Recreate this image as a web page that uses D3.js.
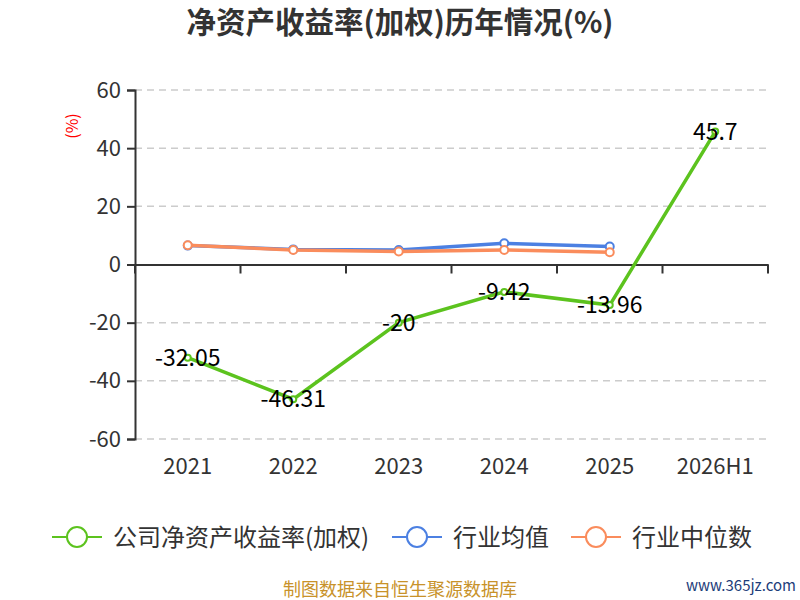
<!DOCTYPE html>
<html><head><meta charset="utf-8">
<script src="https://cdn.jsdelivr.net/npm/d3@7"></script>
<style>body{margin:0;background:#fff}svg{display:block}text{font-family:"Noto Sans CJK SC","Noto Sans",sans-serif}</style>
</head><body><div id="c"></div>
<script>
const categories = ["2021","2022","2023","2024","2025","2026H1"];
const companyROE = [-32.05,-46.31,-20,-9.42,-13.96,45.7];
const industryAvg = [6.5,5.2,5.0,7.3,6.2,null];
const industryMedian = [6.6,5.0,4.5,5.0,4.2,null];
const yTicks = [-60,-40,-20,0,20,40,60];
const seriesNames = ["公司净资产收益率(加权)","行业均值","行业中位数"];
const colors = ["#5cc31e","#4c80e2","#fa8c5c"];

const W=800,H=600;
const svg=d3.select("#c").append("svg").attr("width",W).attr("height",H);
const L=135,R=768,T=90,B=439;
const x=d3.scaleBand().domain(categories).range([L,R]);
const y=d3.scaleLinear().domain([-60,60]).range([B,T]);

svg.append("text").attr("x",400).attr("y",33).attr("text-anchor","middle")
  .attr("font-size",29.5).attr("font-weight","bold").attr("fill","#333").text("净资产收益率(加权)历年情况(%)");

// grid
svg.append("g").selectAll("line").data(yTicks.filter(d=>d!==0)).join("line")
  .attr("x1",L).attr("x2",R).attr("y1",d=>y(d)).attr("y2",d=>y(d))
  .attr("stroke","#ccc").attr("stroke-width",1.5).attr("stroke-dasharray","7,5");

// y axis
const ya=svg.append("g").attr("transform",`translate(${L},0)`)
  .call(d3.axisLeft(y).tickValues(yTicks).tickFormat(d=>String(d)).tickSize(8).tickPadding(6));
ya.select(".domain").attr("stroke","#333").attr("stroke-width",2);
ya.selectAll(".tick line").attr("stroke","#333").attr("stroke-width",2);
ya.selectAll(".tick text").attr("font-size",22).attr("fill","#333").attr("font-family","'Noto Sans',sans-serif");

// x axis at 0
const xa=svg.append("g").attr("transform",`translate(0,${y(0)})`)
  .call(d3.axisBottom(x).tickSize(0).tickFormat(""));
xa.select(".domain").attr("stroke","#333").attr("stroke-width",2);
const bounds=categories.map(c=>x(c)).concat([R]);
svg.append("g").selectAll("line").data(bounds).join("line")
  .attr("x1",d=>d).attr("x2",d=>d).attr("y1",y(0)).attr("y2",y(0)+9)
  .attr("stroke","#333").attr("stroke-width",2);
svg.append("g").selectAll("text").data(categories).join("text")
  .attr("x",d=>x(d)+x.bandwidth()/2).attr("y",474).attr("text-anchor","middle")
  .attr("font-size",22).attr("fill","#333").attr("font-family","'Noto Sans',sans-serif").text(d=>d);

svg.append("text").attr("transform",`translate(78,126) rotate(-90)`).attr("text-anchor","middle")
  .attr("font-size",16).attr("fill","red").text("(%)");

const cx=c=>x(c)+x.bandwidth()/2;
function drawSeries(vals,color,r){
  const pts=categories.map((c,i)=>({c,v:vals[i]})).filter(d=>d.v!=null);
  svg.append("path").datum(pts).attr("fill","none").attr("stroke",color).attr("stroke-width",3.5)
    .attr("d",d3.line().x(d=>cx(d.c)).y(d=>y(d.v)));
  svg.append("g").selectAll("circle").data(pts).join("circle")
    .attr("cx",d=>cx(d.c)).attr("cy",d=>y(d.v)).attr("r",r)
    .attr("fill","#fff").attr("stroke",color).attr("stroke-width",2);
}
drawSeries(industryAvg,colors[1],4);
drawSeries(industryMedian,colors[2],4);
drawSeries(companyROE,colors[0],3);

svg.append("g").selectAll("text").data(companyROE).join("text")
  .attr("x",(d,i)=>cx(categories[i])).attr("y",d=>y(d)+8).attr("text-anchor","middle")
  .attr("font-size",23).attr("fill","#000").attr("font-family","'Noto Sans',sans-serif").text(d=>d);

// legend
const legX=[52,392,571];
seriesNames.forEach((n,i)=>{
  const g=svg.append("g").attr("transform",`translate(${legX[i]},537)`);
  g.append("line").attr("x1",0).attr("x2",50).attr("stroke",colors[i]).attr("stroke-width",2);
  g.append("circle").attr("cx",25).attr("r",10).attr("fill","#fff").attr("stroke",colors[i]).attr("stroke-width",2);
  g.append("text").attr("x",61).attr("y",9).attr("font-size",24).attr("fill","#333").text(n);
});

svg.append("text").attr("x",400).attr("y",596).attr("text-anchor","middle").attr("font-size",18)
  .attr("fill","#c8922a").text("制图数据来自恒生聚源数据库");
svg.append("text").attr("x",796).attr("y",591).attr("text-anchor","end").attr("font-size",15)
  .attr("fill","#1d3d7a").attr("font-family","'DejaVu Serif',serif").text("www.365jz.com");
</script></body></html>
